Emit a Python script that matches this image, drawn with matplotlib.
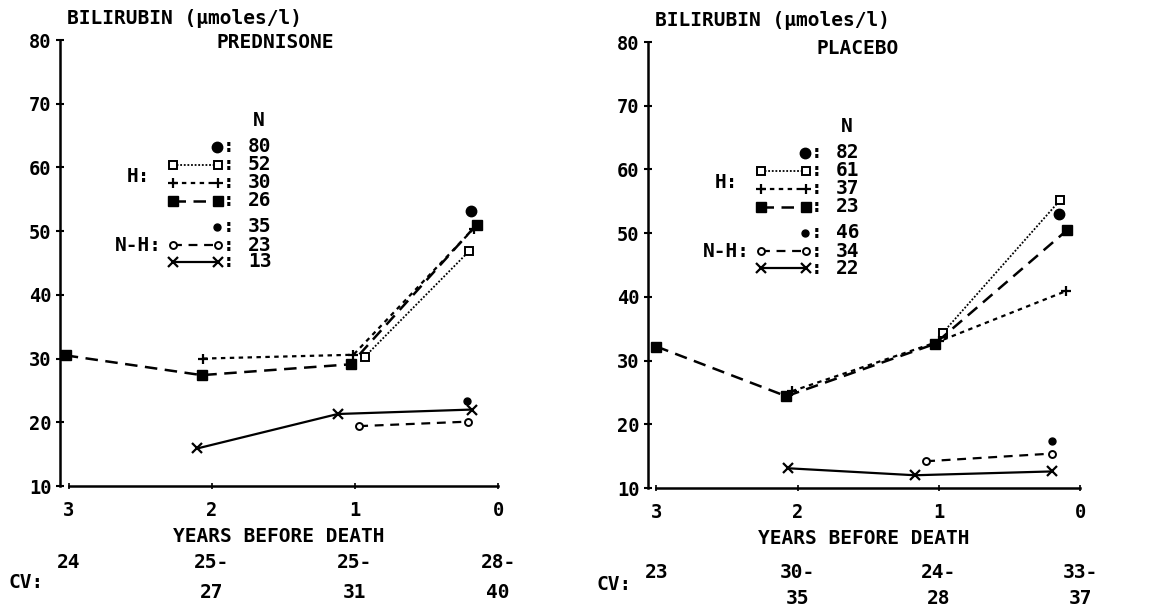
import matplotlib
matplotlib.use("Agg")
import matplotlib.pyplot as plt
from matplotlib.transforms import blended_transform_factory

W, H = 1173, 609

plt.rcParams['font.family'] = ['DejaVu Sans Mono', 'DejaVu Sans']
plt.rcParams['font.weight'] = 'bold'
plt.rcParams['axes.labelweight'] = 'bold'
plt.rcParams['font.size'] = 14

# ---- data (years before death, bilirubin umol/l) ----
year_ticks = [3, 2, 1, 0]
bili_ticks = [10, 20, 30, 40, 50, 60, 70, 80]

# prednisone
pred_h_all_x = [0.19]
pred_h_all_y = [53.2]
pred_h_sqo_x = [0.93, 0.20]
pred_h_sqo_y = [30.3, 46.9]
pred_h_plus_x = [2.06, 1.01, 0.17]
pred_h_plus_y = [30.0, 30.6, 50.4]
pred_h_sqf_x = [3.02, 2.07, 1.03, 0.15]
pred_h_sqf_y = [30.5, 27.4, 29.1, 51.0]
pred_nh_all_x = [0.22]
pred_nh_all_y = [23.4]
pred_nh_dia_x = [0.97, 0.21]
pred_nh_dia_y = [19.4, 20.1]
pred_nh_x_x = [2.10, 1.12, 0.18]
pred_nh_x_y = [15.9, 21.3, 22.0]
pred_n = [80, 52, 30, 26, 35, 23, 13]
pred_cv_top = ["24", "25-", "25-", "28-"]
pred_cv_bot = ["", "27", "31", "40"]

# placebo
plac_h_all_x = [0.15]
plac_h_all_y = [53.0]
plac_h_sqo_x = [0.97, 0.14]
plac_h_sqo_y = [34.4, 55.2]
plac_h_plus_x = [2.04, 1.00, 0.10]
plac_h_plus_y = [25.2, 33.0, 40.9]
plac_h_sqf_x = [3.00, 2.08, 1.03, 0.09]
plac_h_sqf_y = [32.2, 24.4, 32.6, 50.5]
plac_nh_all_x = [0.20]
plac_nh_all_y = [17.4]
plac_nh_dia_x = [1.09, 0.20]
plac_nh_dia_y = [14.2, 15.4]
plac_nh_x_x = [2.07, 1.17, 0.20]
plac_nh_x_y = [13.1, 12.0, 12.6]
plac_n = [82, 61, 37, 23, 46, 34, 22]
plac_cv_top = ["23", "30-", "24-", "33-"]
plac_cv_bot = ["", "35", "28", "37"]

# one style per legend row (same order as the N lists)
styles = [
    dict(marker='o', ms=7.5, mfc='black', mec='black', ls='none'),
    dict(marker='s', ms=6, mfc='white', mec='black', mew=1.4, ls=(0, (1, 1)), lw=1.3),
    dict(marker='+', ms=7.5, mec='black', mew=1.6, ls=(0, (2, 2)), lw=1.6),
    dict(marker='s', ms=7, mfc='black', mec='black', ls=(0, (5, 3)), lw=1.8),
    dict(marker='o', ms=5, mfc='black', mec='black', ls='none'),
    dict(marker='o', ms=5, mfc='white', mec='black', mew=1.4, ls=(0, (4, 3)), lw=1.6),
    dict(marker='x', ms=7, mec='black', mew=1.6, ls='-', lw=1.6),
]

panels = [
    dict(title="PREDNISONE", n=pred_n, cv_top=pred_cv_top, cv_bot=pred_cv_bot,
         series=[(pred_h_all_x, pred_h_all_y), (pred_h_sqo_x, pred_h_sqo_y),
                 (pred_h_plus_x, pred_h_plus_y), (pred_h_sqf_x, pred_h_sqf_y),
                 (pred_nh_all_x, pred_nh_all_y), (pred_nh_dia_x, pred_nh_dia_y),
                 (pred_nh_x_x, pred_nh_x_y)],
         box=(60, 498, 40, 486), title_xy=(217, 42), leg_dy=-2, cv_rows=(563, 593)),
    dict(title="PLACEBO", n=plac_n, cv_top=plac_cv_top, cv_bot=plac_cv_bot,
         series=[(plac_h_all_x, plac_h_all_y), (plac_h_sqo_x, plac_h_sqo_y),
                 (plac_h_plus_x, plac_h_plus_y), (plac_h_sqf_x, plac_h_sqf_y),
                 (plac_nh_all_x, plac_nh_all_y), (plac_nh_dia_x, plac_nh_dia_y),
                 (plac_nh_x_x, plac_nh_x_y)],
         box=(648, 1080, 42, 488), title_xy=(817, 48), leg_dy=2, cv_rows=(573, 598)),
]

leg_rows = [109, 127, 145, 163, 189, 207, 224]


def fx(x):
    return x / W


def fy(y):
    return 1 - y / H


fig = plt.figure(figsize=(W / 100, H / 100), dpi=100)
fig.patch.set_facecolor('white')

for p in panels:
    x0, x1, yt, yb = p['box']
    ax = fig.add_axes([fx(x0), fy(yb), (x1 - x0) / W, (yb - yt) / H])
    ax.set_xlim(3.06, 0)
    ax.set_ylim(10, 80)
    for (xs, ys), st in zip(p['series'], styles):
        ax.plot(xs, ys, color='black', clip_on=False, **st)

    for s in ['top', 'right']:
        ax.spines[s].set_visible(False)
    ax.spines['left'].set_bounds(10, 80)
    ax.spines['bottom'].set_bounds(3, 0)
    ax.spines['left'].set_linewidth(1.8)
    ax.spines['bottom'].set_linewidth(1.8)
    ax.set_yticks(bili_ticks)
    ax.set_xticks(year_ticks)
    ax.tick_params(axis='y', direction='inout', length=6, width=1.5, pad=3, labelsize=13.5)
    ax.tick_params(axis='x', direction='inout', length=5, width=1.2, pad=8, labelsize=13.5)
    ax.set_xlabel("YEARS BEFORE DEATH", labelpad=5, fontsize=14)

    # axis title and panel title
    fig.text(fx(x0 + 7), fy(yt - 22), "BILIRUBIN (\u00b5moles/l)", ha='left', va='center')
    fig.text(fx(p['title_xy'][0]), fy(p['title_xy'][1]), p['title'], ha='left', va='center')

    # hand-drawn key, as in the original
    dy = yt - 40 + p['leg_dy']
    fig.text(fx(x0 + 199), fy(40 + 82 + dy), "N", ha='center', va='center')
    for i, (n, st) in enumerate(zip(p['n'], styles)):
        ry = fy(40 + leg_rows[i] + dy)
        if st['ls'] == 'none':
            ax.plot([fx(x0 + 157)], [ry], transform=fig.transFigure, clip_on=False,
                    color='black', **st)
        else:
            ax.plot([fx(x0 + 113), fx(x0 + 158)], [ry, ry], transform=fig.transFigure,
                    clip_on=False, color='black', **st)
        fig.text(fx(x0 + 169), ry, ":", ha='center', va='center')
        fig.text(fx(x0 + 188), ry, str(n), ha='left', va='center')
    fig.text(fx(x0 + 67), fy(40 + 139 + dy), "H:", ha='left', va='center')
    fig.text(fx(x0 + 55), fy(40 + 207 + dy), "N-H:", ha='left', va='center')

    # CV row under the axis
    fig.text(fx(x0 - 52), fy(yb + 97), "CV:", ha='left', va='center')
    tr = blended_transform_factory(ax.transData, fig.transFigure)
    for xv, top, bot in zip(year_ticks, p['cv_top'], p['cv_bot']):
        ax.text(xv, fy(p['cv_rows'][0]), top, transform=tr, ha='center', va='center')
        ax.text(xv, fy(p['cv_rows'][1]), bot, transform=tr, ha='center', va='center')

fig.savefig("out.png", dpi=100, facecolor='white')
